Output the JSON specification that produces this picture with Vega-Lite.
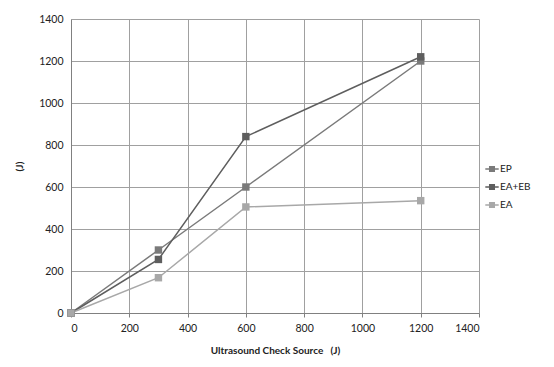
{
  "$schema": "https://vega.github.io/schema/vega-lite/v6.json",
  "autosize": "none",
  "width": 408,
  "height": 294,
  "padding": {"left": 71, "top": 19, "right": 75, "bottom": 54},
  "background": "white",
  "config": {
    "font": "Lato",
    "view": {"stroke": null},
    "axis": {"labelFont": "Lato", "titleFont": "Lato", "labelFontSize": 10.5, "labelColor": "#222", "titleColor": "#222", "titleFontSize": 10, "titleFontWeight": "bold", "gridColor": "#a0a0a0", "gridWidth": 1, "domainColor": "#808080", "tickColor": "#808080", "format": "d"}
  },
  "data": {"values": [
    {"x": 0, "y": 0, "s": "EP"},
    {"x": 300, "y": 300, "s": "EP"},
    {"x": 600, "y": 600, "s": "EP"},
    {"x": 1200, "y": 1200, "s": "EP"},
    {"x": 0, "y": 0, "s": "EA+EB"},
    {"x": 300, "y": 255, "s": "EA+EB"},
    {"x": 600, "y": 840, "s": "EA+EB"},
    {"x": 1200, "y": 1220, "s": "EA+EB"},
    {"x": 0, "y": 0, "s": "EA"},
    {"x": 300, "y": 168, "s": "EA"},
    {"x": 600, "y": 505, "s": "EA"},
    {"x": 1200, "y": 535, "s": "EA"}
  ]},
  "encoding": {
    "x": {"field": "x", "type": "quantitative", "scale": {"domain": [0, 1400], "nice": false}, "axis": {"values": [0,200,400,600,800,1000,1200,1400], "format": "d", "title": "Ultrasound Check Source\u00a0\u00a0\u00a0(J)", "titlePadding": 12, "labelPadding": 6, "tickSize": 4, "ticks": true}},
    "y": {"field": "y", "type": "quantitative", "scale": {"domain": [0, 1400], "nice": false}, "axis": {"values": [0,200,400,600,800,1000,1200,1400], "format": "d", "title": "(J)", "titlePadding": 14, "labelPadding": 8, "ticks": false}},
    "color": {"field": "s", "type": "nominal", "scale": {"domain": ["EP", "EA+EB", "EA"], "range": ["#7a7a7a", "#5e5e5e", "#a8a8a8"]},
      "legend": {"title": null, "orient": "none", "legendX": 414, "legendY": 143, "labelFont": "Lato", "labelFontSize": 10, "labelColor": "#222", "rowPadding": 6,
        "symbolType": "M-1,-0.1H1V0.1H-1Z M-0.45,-0.45H0.45V0.45H-0.45Z", "symbolSize": 180, "symbolStrokeWidth": 0, "labelOffset": 1}}
  },
  "layer": [
    {"mark": {"type": "line", "strokeWidth": 1.5}},
    {"mark": {"type": "point", "shape": "square", "filled": true, "size": 55, "opacity": 1}}
  ]
}
